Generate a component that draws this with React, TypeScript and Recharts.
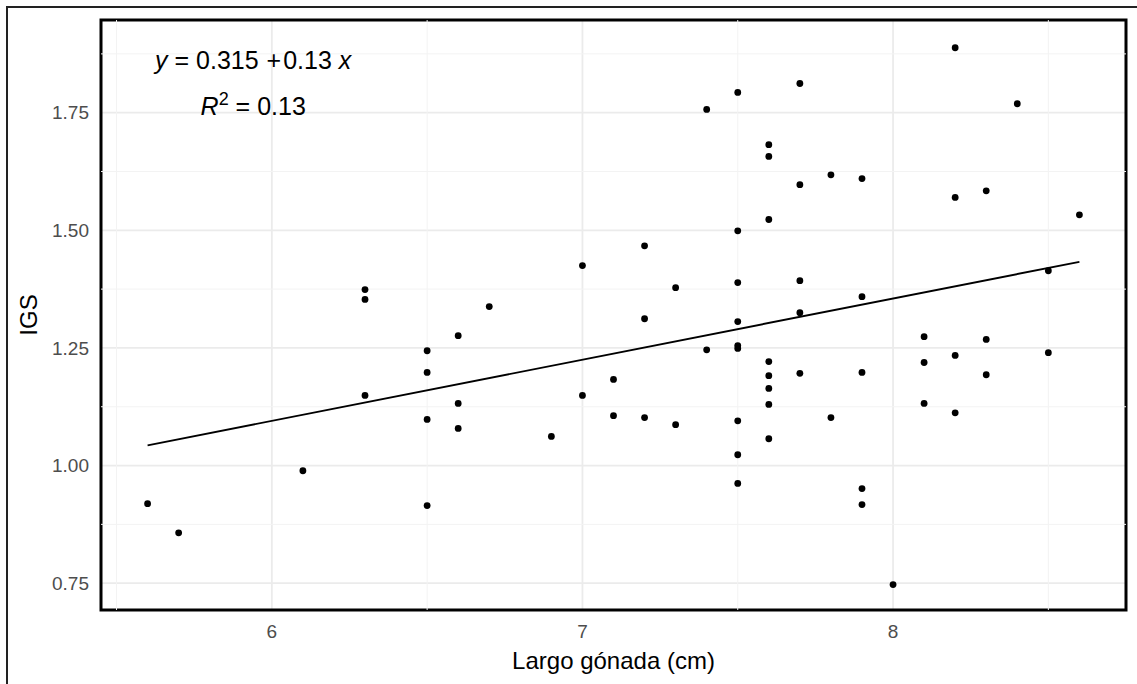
import { ScatterChart, Scatter, XAxis, YAxis, CartesianGrid, ReferenceArea, ReferenceDot, ReferenceLine, Label } from 'recharts'

const font = '"Liberation Sans", Arial, sans-serif'

// gonad length (cm) and IGS, one entry per fish
const largoGonada = [
  5.6, 5.7, 6.1,
  6.3, 6.3, 6.3,
  6.5, 6.5, 6.5, 6.5,
  6.6, 6.6, 6.6,
  6.7, 6.9,
  7.0, 7.0,
  7.1, 7.1,
  7.2, 7.2, 7.2,
  7.3, 7.3,
  7.4, 7.4,
  7.5, 7.5, 7.5, 7.5, 7.5, 7.5, 7.5, 7.5, 7.5,
  7.6, 7.6, 7.6, 7.6, 7.6, 7.6, 7.6, 7.6,
  7.7, 7.7, 7.7, 7.7, 7.7,
  7.8, 7.8,
  7.9, 7.9, 7.9, 7.9, 7.9,
  8.0,
  8.1, 8.1, 8.1,
  8.2, 8.2, 8.2, 8.2,
  8.3, 8.3, 8.3,
  8.4,
  8.5, 8.5,
  8.6
]

const igs = [
  0.919, 0.857, 0.989,
  1.374, 1.353, 1.149,
  1.244, 1.198, 1.098, 0.915,
  1.276, 1.132, 1.079,
  1.338, 1.062,
  1.425, 1.149,
  1.183, 1.106,
  1.467, 1.312, 1.102,
  1.378, 1.087,
  1.757, 1.246,
  1.793, 1.499, 1.389, 1.306, 1.255, 1.249, 1.095, 1.023, 0.962,
  1.682, 1.657, 1.523, 1.221, 1.191, 1.164, 1.130, 1.057,
  1.812, 1.597, 1.393, 1.325, 1.196,
  1.618, 1.102,
  1.610, 1.359, 1.198, 0.951, 0.917,
  0.747,
  1.274, 1.219, 1.132,
  1.888, 1.570, 1.234, 1.112,
  1.584, 1.268, 1.193,
  1.769,
  1.414, 1.240,
  1.533
]

const xTicks = [6, 7, 8]
const yTicks = [0.75, 1.0, 1.25, 1.5, 1.75]
const xMinor = [5.5, 6.5, 7.5, 8.5]
const yMinor = [0.875, 1.125, 1.375, 1.625, 1.875]

// linear fit reported on the plot
const intercept = 0.315
const slope = 0.13
const rSquared = 0.13

const xDomain = [5.45, 8.75]
const yDomain = [0.693, 1.947]

const points = largoGonada.map((x, i) => ({ x, y: igs[i] }))
const fitLine = [Math.min(...largoGonada), Math.max(...largoGonada)].map((x) => ({ x, y: intercept + slope * x }))

const Equation = ({ cx, cy }: any) => (
  <g fontFamily={font} fontSize={25} fill='#000' textAnchor='middle'>
    <text x={cx} y={cy}>
      <tspan fontStyle='italic'>y</tspan>
      <tspan>{` = ${intercept}`}</tspan>
      <tspan dx={8}>+</tspan>
      <tspan dx={2}>{`${slope} `}</tspan>
      <tspan fontStyle='italic'>x</tspan>
    </text>
    <text x={cx} y={cy + 46}>
      <tspan fontStyle='italic'>R</tspan>
      <tspan fontSize={18} dy={-10}>2</tspan>
      <tspan dy={10}>{` = ${rSquared}`}</tspan>
    </text>
  </g>
)

const YTitle = ({ viewBox }: any) => {
  const cx = viewBox.x + 28
  const cy = viewBox.y + viewBox.height / 2
  return (
    <text x={cx} y={cy} transform={`rotate(-90 ${cx} ${cy})`} textAnchor='middle'
      dominantBaseline='central' fontFamily={font} fontSize={24} fill='#000'>
      IGS
    </text>
  )
}

const Dot = ({ cx, cy }: any) => <circle cx={cx} cy={cy} r={3.4} fill='#000' />

export default function App() {
  return (
    <div style={{ position: 'absolute', left: 0, top: 0, width: 1137, height: 684, overflow: 'hidden', background: '#fff' }}>
      <div style={{ position: 'absolute', left: 6, top: 6, width: 1200, height: 800, borderTop: '2px solid #222', borderLeft: '2px solid #222' }} />
      <div style={{ position: 'absolute', left: 0, top: 0 }}>
        <ScatterChart width={1137} height={684} margin={{ top: 20, right: 11, bottom: 0, left: 0 }}>
          <CartesianGrid stroke='#ebebeb' strokeWidth={1.8} />
          {xMinor.map((v) => (
            <ReferenceLine key={`vx${v}`} x={v} stroke='#f3f3f3' strokeWidth={1} />
          ))}
          {yMinor.map((v) => (
            <ReferenceLine key={`hy${v}`} y={v} stroke='#f3f3f3' strokeWidth={1} />
          ))}
          <XAxis dataKey='x' type='number' domain={xDomain} ticks={xTicks} allowDataOverflow
            tickLine={false} axisLine={false} tickSize={6} tickMargin={9} height={74}
            tick={{ fill: '#4d4d4d', fontSize: 19, fontFamily: font }}>
            <Label value='Largo gónada (cm)' position='insideBottom' offset={15}
              fill='#000' fontSize={24} fontFamily={font} />
          </XAxis>
          <YAxis dataKey='y' type='number' domain={yDomain} ticks={yTicks} allowDataOverflow
            tickLine={false} axisLine={false} tickSize={6} tickMargin={6} width={101}
            tickFormatter={(v: number) => v.toFixed(2)}
            tick={{ fill: '#4d4d4d', fontSize: 19, fontFamily: font }}>
            <Label content={YTitle} />
          </YAxis>
          <Scatter data={fitLine} line={{ stroke: '#000', strokeWidth: 1.9 }} shape={() => <g />}
            isAnimationActive={false} />
          <Scatter data={points} shape={Dot} isAnimationActive={false} />
          <ReferenceArea x1={xDomain[0]} x2={xDomain[1]} y1={yDomain[0]} y2={yDomain[1]}
            fill='none' fillOpacity={0} stroke='#000' strokeWidth={3} />
          <ReferenceDot x={5.94} y={1.842} shape={Equation} />
        </ScatterChart>
      </div>
    </div>
  )
}
